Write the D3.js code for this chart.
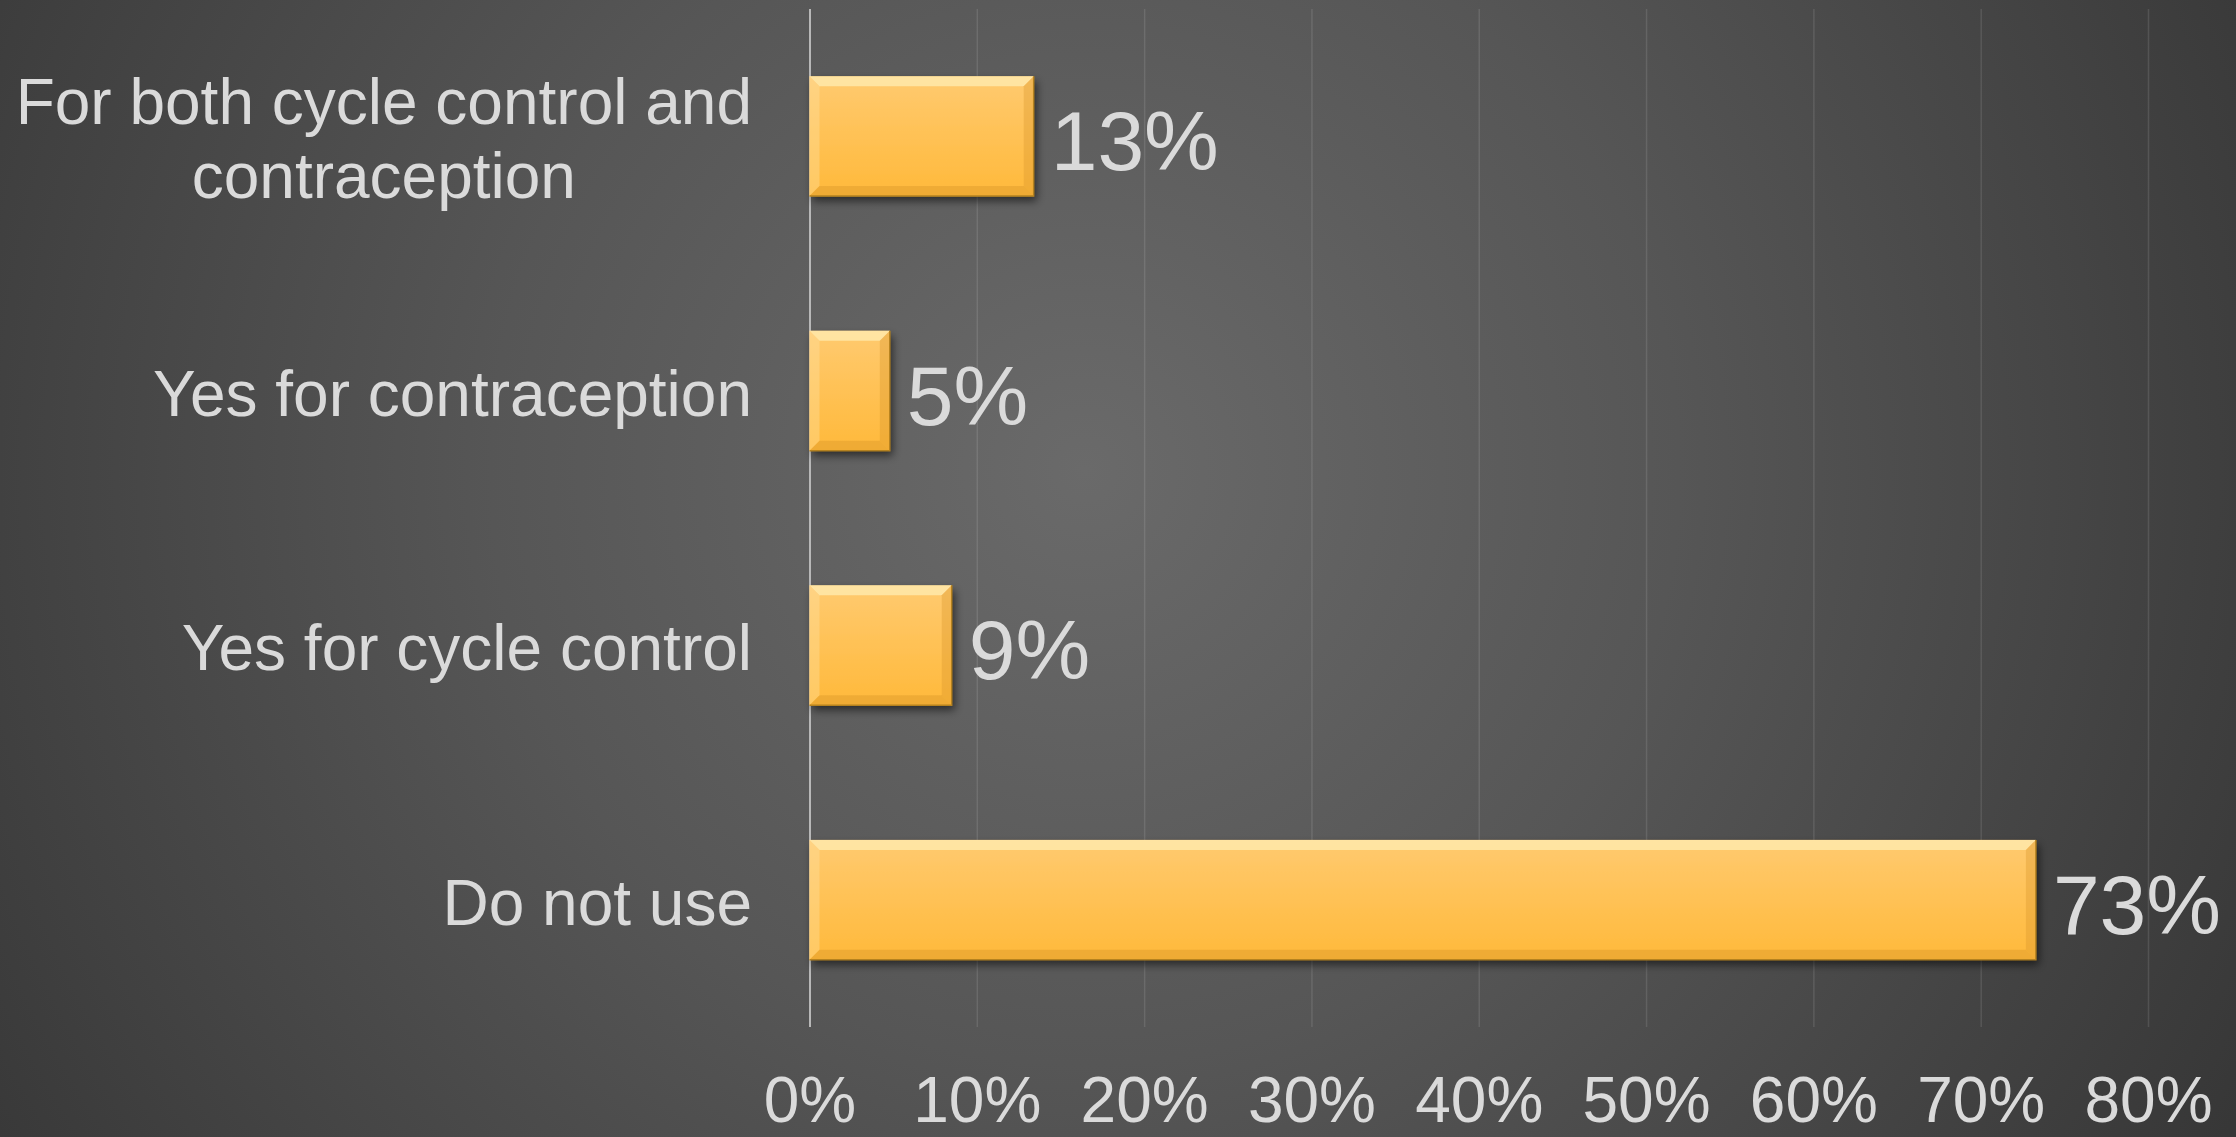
<!DOCTYPE html>
<html>
<head>
<meta charset="utf-8">
<script src="https://cdn.jsdelivr.net/npm/d3@7"></script>
<style>
  html, body { margin: 0; padding: 0; background: #3a3a3a; overflow: hidden; }
  svg { display: block; }
  text { font-family: "Liberation Sans", Arial, sans-serif; fill: #dadada; }
</style>
</head>
<body>
<svg id="chart"></svg>
<script>
// -------------------------------------------------------------
const width  = 2236;
const height = 1137;

// data, top to bottom as drawn
const categories = [
  "For both cycle control and contraception",
  "Yes for contraception",
  "Yes for cycle control",
  "Do not use"
];
const shares     = [0.134, 0.048, 0.085, 0.733];
const tickValues = [0, 0.1, 0.2, 0.3, 0.4, 0.5, 0.6, 0.7, 0.8];

const svg  = d3.select('#chart').attr('width', width).attr('height', height);
const defs = svg.append('defs');

const x = d3.scaleLinear().domain([0, 0.8]).range([809.5, 2148]);
const y = d3.scaleBand().domain(categories).range([9, 1027])
  .paddingInner(0.529).paddingOuter(0.264);

drawBackground();
drawGrid();
drawBars();
drawCategoryLabels();
drawTickLabels();

// -------------------------------------------------------------
function drawBackground() {
  const bg = defs.append('radialGradient')
    .attr('id', 'bg').attr('gradientUnits', 'userSpaceOnUse')
    .attr('cx', 1085).attr('cy', 470).attr('r', 1320);
  bg.append('stop').attr('offset', '0%').attr('stop-color', '#6a6a6a');
  bg.append('stop').attr('offset', '45%').attr('stop-color', '#565656');
  bg.append('stop').attr('offset', '100%').attr('stop-color', '#373737');

  svg.append('rect')
    .attr('width', width).attr('height', height)
    .attr('fill', 'url(#bg)');
}

// -------------------------------------------------------------
function drawGrid() {
  const [top, bottom] = y.range();
  const grid = svg.append('g')
    .attr('transform', `translate(0,${bottom})`)
    .call(d3.axisBottom(x).tickValues(tickValues).tickSize(-(bottom - top)).tickFormat(''));

  grid.select('.domain').remove();
  grid.selectAll('.tick line')
    .attr('stroke', d => d === 0 ? '#b8b8b8' : '#ffffff')
    .attr('stroke-opacity', d => d === 0 ? 1 : 0.11)
    .attr('stroke-width', d => d === 0 ? 2 : 1.5);
}

// -------------------------------------------------------------
function drawBars() {
  const fill = defs.append('linearGradient')
    .attr('id', 'barFill').attr('x1', 0).attr('y1', 0).attr('x2', 0).attr('y2', 1);
  fill.append('stop').attr('offset', '0%').attr('stop-color', '#ffca70');
  fill.append('stop').attr('offset', '100%').attr('stop-color', '#ffb93a');

  const shadow = defs.append('filter').attr('id', 'shadow')
    .attr('x', '-10%').attr('y', '-20%').attr('width', '130%').attr('height', '150%');
  shadow.append('feDropShadow')
    .attr('dx', 3).attr('dy', 5).attr('stdDeviation', 4)
    .attr('flood-color', '#000').attr('flood-opacity', 0.55);

  const rows = categories.map((c, i) => ({ cat: c, v: shares[i] }));
  const b = 10;   // bevel depth

  const bars = svg.append('g').selectAll('g.bar')
    .data(rows).enter().append('g').attr('class', 'bar');

  bars.append('rect')
    .attr('x', x(0)).attr('y', d => y(d.cat))
    .attr('width', d => x(d.v) - x(0)).attr('height', y.bandwidth())
    .attr('fill', 'url(#barFill)')
    .attr('filter', 'url(#shadow)');

  // bevel edges
  const edge = (d, side) => {
    const x0 = x(0), x1 = x(d.v), y0 = y(d.cat), y1 = y0 + y.bandwidth();
    const pts = {
      top:    [[x0, y0], [x1, y0], [x1 - b, y0 + b], [x0 + b, y0 + b]],
      bottom: [[x0, y1], [x1, y1], [x1 - b, y1 - b], [x0 + b, y1 - b]],
      left:   [[x0, y0], [x0 + b, y0 + b], [x0 + b, y1 - b], [x0, y1]],
      right:  [[x1, y0], [x1 - b, y0 + b], [x1 - b, y1 - b], [x1, y1]]
    };
    return pts[side].map(p => p.join(',')).join(' ');
  };
  const bevels = [
    { side: 'top',    color: '#fff0b8', op: 0.7 },
    { side: 'left',   color: '#ffe2a0', op: 0.4 },
    { side: 'right',  color: '#d8962a', op: 0.35 },
    { side: 'bottom', color: '#d8962a', op: 0.4 }
  ];
  bevels.forEach(bv => {
    bars.append('polygon')
      .attr('points', d => edge(d, bv.side))
      .attr('fill', bv.color).attr('fill-opacity', bv.op);
  });

  // dark outline on right and bottom
  bars.append('path')
    .attr('d', d => {
      const x1 = x(d.v), y0 = y(d.cat), y1 = y0 + y.bandwidth();
      return `M${x1},${y0}V${y1}H${x(0)}`;
    })
    .attr('fill', 'none').attr('stroke', '#b5821f').attr('stroke-width', 1.5);

  // value labels
  svg.append('g').selectAll('text')
    .data(rows).enter().append('text')
    .attr('x', d => x(d.v) + 17)
    .attr('y', d => y(d.cat) + y.bandwidth() / 2 + 34)
    .style('font-size', '84px')
    .text(d => Math.round(d.v * 100) + '%');
}

// -------------------------------------------------------------
function drawCategoryLabels() {
  const right = 752, maxW = 745, lineH = 74, fs = 64;
  const g = svg.append('g');

  categories.forEach(cat => {
    const t = g.append('text').style('font-size', fs + 'px');
    // wrap words into lines
    const words = cat.split(' ');
    const lines = [];
    let line = [];
    const probe = t.append('tspan');
    words.forEach(w => {
      const trial = line.concat(w).join(' ');
      probe.text(trial);
      if (probe.node().getComputedTextLength() > maxW && line.length) {
        lines.push(line.join(' '));
        line = [w];
      } else {
        line.push(w);
      }
    });
    lines.push(line.join(' '));
    probe.remove();

    const widths = lines.map(l => {
      const p = t.append('tspan').text(l);
      const w = p.node().getComputedTextLength();
      p.remove();
      return w;
    });
    const cx = right - d3.max(widths) / 2;
    const cy = y(cat) + y.bandwidth() / 2;
    const first = cy + 25 - (lines.length - 1) * lineH / 2;

    t.attr('text-anchor', 'middle');
    lines.forEach((l, i) => {
      t.append('tspan').attr('x', cx).attr('y', first + i * lineH).text(l);
    });
  });
}

// -------------------------------------------------------------
function drawTickLabels() {
  const ax = svg.append('g')
    .attr('transform', `translate(0,${y.range()[1]})`)
    .call(d3.axisBottom(x).tickValues(tickValues).tickSize(0).tickPadding(0)
      .tickFormat(d3.format('.0%')));
  ax.select('.domain').remove();
  ax.selectAll('.tick text')
    .attr('dy', null).attr('y', 95)
    .style('font-size', '64px')
    .style('font-family', '"Liberation Sans", Arial, sans-serif')
    .attr('fill', '#dadada');
}
</script>
</body>
</html>
